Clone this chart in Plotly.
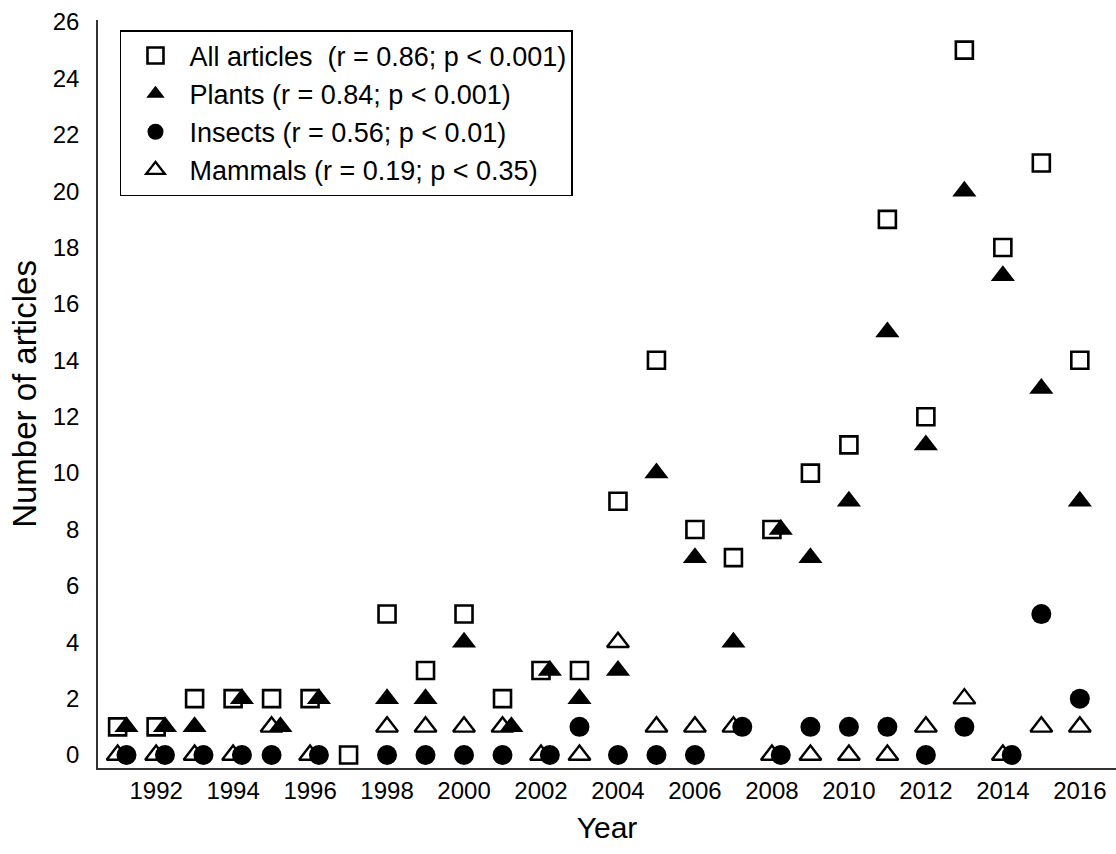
import plotly.graph_objects as go

# ---- data ----
years = list(range(1991, 2017))
all_articles = [1, 1, 2, 2, 2, 2, 0, 5, 3, 5, 2, 3, 3, 9, 14, 8, 7, 8, 10, 11, 19, 12, 25, 18, 21, 14]
plants =       [1, 1, 1, 2, 1, 2, None, 2, 2, 4, 1, 3, 2, 3, 10, 7, 4, 8, 7, 9, 15, 11, 20, 17, 13, 9]
insects =      [0, 0, 0, 0, 0, 0, None, 0, 0, 0, 0, 0, 1, 0, 0, 0, 1, 0, 1, 1, 1, 0, 1, 0, 5, 2]
mammals =      [0, 0, 0, 0, 1, 0, None, 1, 1, 1, 1, 0, 0, 4, 1, 1, 1, 0, 0, 0, 0, 1, 2, 0, 1, 1]

legend_names = [
    "All articles \u00a0(r = 0.86; p &lt; 0.001)",
    "Plants (r = 0.84; p &lt; 0.001)",
    "Insects (r = 0.56; p &lt; 0.01)",
    "Mammals (r = 0.19; p &lt; 0.35)",
]
x_ticks = list(range(1992, 2017, 2))
y_ticks = list(range(0, 27, 2))

# small horizontal dodge for markers that coincide with another series
DODGE = 0.23


def dodged_x(values, others):
    xs = []
    for i, (yr, v) in enumerate(zip(years, values)):
        hit = v is not None and any(o[i] == v for o in others)
        xs.append(yr + DODGE if hit else yr)
    return xs


x_plants = dodged_x(plants, [all_articles, mammals])
x_insects = dodged_x(insects, [mammals, all_articles, plants])

FONT = "Liberation Sans, Arial, Helvetica, sans-serif"

fig = go.Figure()
fig.add_trace(go.Scatter(
    x=years, y=all_articles, mode="markers", name=legend_names[0], legendrank=1,
    marker=dict(symbol="square-open", size=17, color="black", line=dict(width=2.6, color="black")),
))
fig.add_trace(go.Scatter(
    x=years, y=mammals, mode="markers", name=legend_names[3], legendrank=4,
    marker=dict(symbol="triangle-up-open", size=19, color="black", line=dict(width=2.4, color="black")),
))
fig.add_trace(go.Scatter(
    x=x_plants, y=plants, mode="markers", name=legend_names[1], legendrank=2,
    marker=dict(symbol="triangle-up", size=21, color="black", line=dict(width=0)),
))
fig.add_trace(go.Scatter(
    x=x_insects, y=insects, mode="markers", name=legend_names[2], legendrank=3,
    marker=dict(symbol="circle", size=20, color="black", line=dict(width=0)),
))

fig.update_layout(
    width=1116, height=854,
    margin=dict(l=98, r=0, t=20, b=86),
    paper_bgcolor="white", plot_bgcolor="white",
    font=dict(family=FONT, color="black", size=24),
    showlegend=True,
    legend=dict(
        x=0.0216, y=0.9866, xanchor="left", yanchor="top",
        bgcolor="white", bordercolor="black", borderwidth=1.5,
        font=dict(family=FONT, size=27, color="black"),
        itemwidth=58, traceorder="normal",
    ),
    xaxis=dict(
        range=[1990.49, 2016.94], tickvals=x_ticks, ticktext=[str(t) for t in x_ticks],
        showline=True, linecolor="#333", linewidth=1.5, ticks="", showgrid=False, zeroline=False,
        tickfont=dict(size=24), ticklabelstandoff=0,
        title=dict(text="Year", font=dict(size=30), standoff=14),
        automargin=False,
    ),
    yaxis=dict(
        range=[-0.46, 26.07], tickvals=y_ticks,
        showline=True, linecolor="#333", linewidth=1.5, ticks="", showgrid=False, zeroline=False,
        tickfont=dict(size=24), ticklabelstandoff=12,
        title=dict(text="Number of articles", font=dict(size=33), standoff=6),
        automargin=False,
    ),
)

fig.write_html("out.html")
